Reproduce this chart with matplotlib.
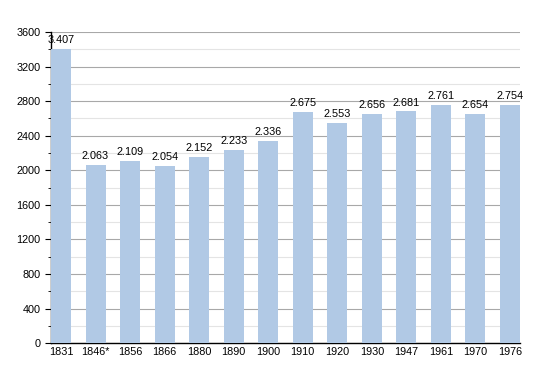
import numpy as np
import matplotlib.pyplot as plt
from matplotlib.ticker import MultipleLocator

years = ['1831', '1846*', '1856', '1866', '1880', '1890', '1900', '1910',
         '1920', '1930', '1947', '1961', '1970', '1976']
population = [3407, 2063, 2109, 2054, 2152, 2233, 2336, 2675,
              2553, 2656, 2681, 2761, 2654, 2754]

plt.rcParams['font.family'] = ['Liberation Sans', 'DejaVu Sans']

fig = plt.figure(figsize=(5.5, 3.73), dpi=100)
ax = fig.add_axes([0.0927, 0.080, 0.8527, 0.834])

x = np.arange(len(years))
ax.bar(x, population, width=0.58, color='#b1c9e5', zorder=3)

for xi, v in zip(x, population):
    label = '{:,}'.format(v).replace(',', '.')
    ax.text(xi, v + 45, label, ha='center', va='bottom', fontsize=7.8, zorder=4)

ax.set_xlim(-0.29, len(years) - 0.71)
ax.set_ylim(0, 3600)
ax.yaxis.set_major_locator(MultipleLocator(400))
ax.yaxis.set_minor_locator(MultipleLocator(200))
ax.grid(axis='y', which='major', color='#a8a8a8', linewidth=0.8, zorder=0)
ax.grid(axis='y', which='minor', color='#e4e4e4', linewidth=0.8, zorder=0)

ax.set_xticks(x)
ax.set_xticklabels(years)
ax.tick_params(axis='x', length=0, labelsize=7.8, pad=3)
ax.tick_params(axis='y', which='major', length=4, labelsize=7.8)
ax.tick_params(axis='y', which='minor', length=2)

for s in ['top', 'right']:
    ax.spines[s].set_visible(False)
ax.spines['left'].set_linewidth(1)
ax.spines['bottom'].set_linewidth(1)

fig.savefig('out.png', dpi=100)
